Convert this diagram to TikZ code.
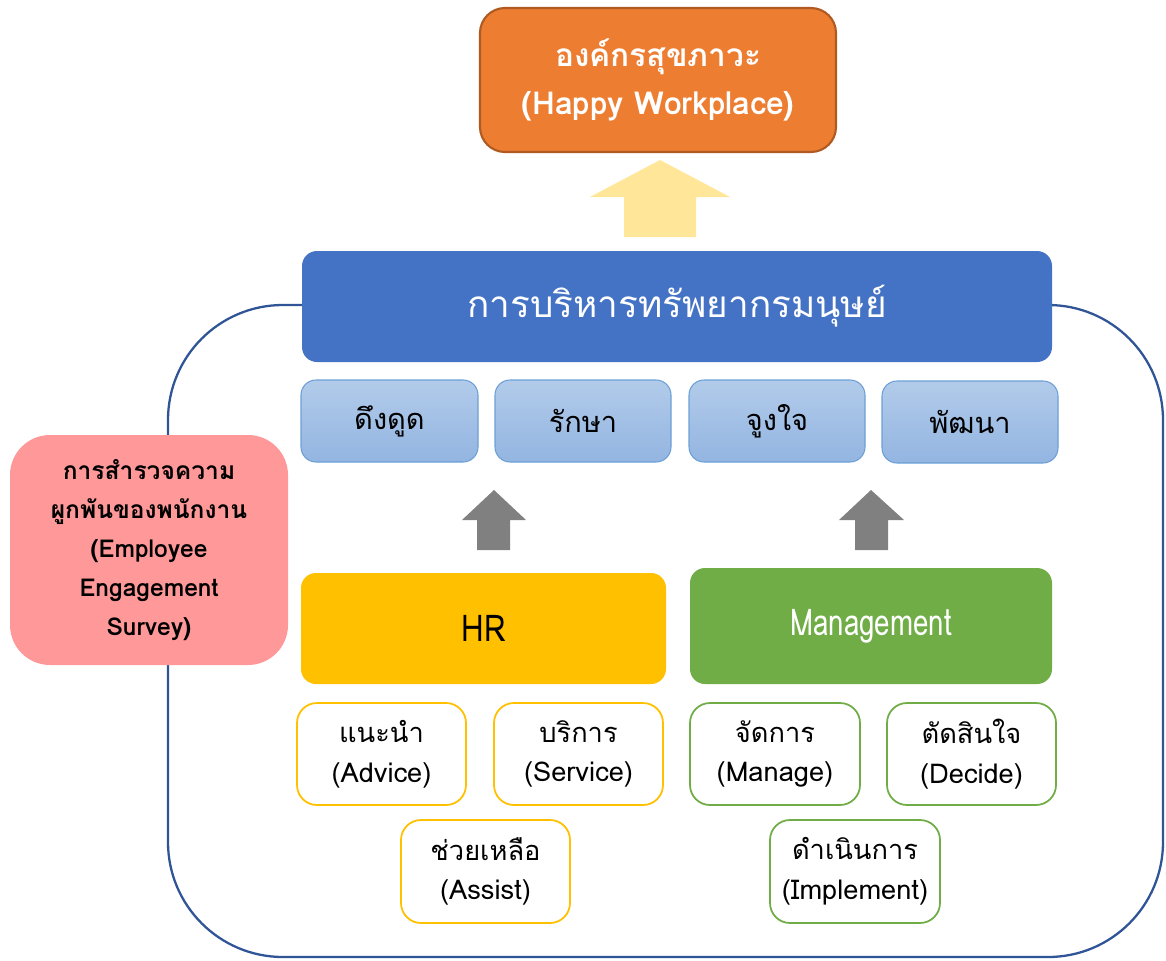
\documentclass[tikz,border=0pt]{standalone}
\usepackage{fontspec}
\setmainfont[Script=Thai]{Loma}
\newfontfamily\narrowA[Script=Thai,FakeStretch=0.75]{Loma}
\newfontfamily\narrowB[Script=Thai,FakeStretch=0.85]{Loma}
\usetikzlibrary{fit}

\definecolor{frameblue}{HTML}{2F5597}
\definecolor{orangefill}{HTML}{ED7D31}
\definecolor{orangeline}{HTML}{AE5A21}
\definecolor{paleyellow}{HTML}{FFE699}
\definecolor{hrmblue}{HTML}{4472C4}
\definecolor{lbtop}{HTML}{B2CBEA}
\definecolor{lbbot}{HTML}{93B5E1}
\definecolor{lbline}{HTML}{6C9FD6}
\definecolor{arrowgray}{HTML}{808080}
\definecolor{hryellow}{HTML}{FFC000}
\definecolor{mgreen}{HTML}{70AD47}
\definecolor{pinkfill}{HTML}{FF9999}

\tikzset{
  boxfit/.style={inner sep=0pt},
  goalbox/.style={boxfit, fill=orangefill, draw=orangeline, line width=1.2pt,
    rounded corners=0.5cm},
  hrmbar/.style={boxfit, fill=hrmblue, rounded corners=0.3cm},
  funcbox/.style={boxfit, top color=lbtop, bottom color=lbbot, draw=lbline,
    line width=0.6pt, rounded corners=0.3cm},
  hrbox/.style={boxfit, fill=hryellow, rounded corners=0.3cm},
  mgbox/.style={boxfit, fill=mgreen, rounded corners=0.3cm},
  rolehr/.style={boxfit, fill=white, draw=hryellow, line width=1pt,
    rounded corners=0.4cm},
  rolemg/.style={rolehr, draw=mgreen},
  surveybox/.style={boxfit, fill=pinkfill, rounded corners=0.8cm},
  % text styles
  label/.style={inner sep=0pt, align=center},
  goaltext/.style={label, text=white,
    font=\fontsize{18}{27}\selectfont\bfseries},
  hrmtext/.style={label, text=white,
    font=\fontsize{21}{25}\selectfont},
  functext/.style={label,
    font=\fontsize{16.5}{20}\selectfont},
  hrtext/.style={label,
    font=\fontsize{21}{25}\narrowB\selectfont},
  mgtext/.style={label, text=white,
    font=\fontsize{21}{25}\narrowA\selectfont},
  roletext/.style={label,
    font=\fontsize{15.5}{22.5}\selectfont},
  surveytext/.style={label,
    font=\fontsize{14}{22.3}\selectfont\bfseries},
}

\begin{document}
\begin{tikzpicture}[x=0.02cm, y=-0.02cm]
\useasboundingbox (0,0) rectangle (1166,960);

% outer frame around the HR management system
\draw[frameblue, line width=1.3pt, rounded corners=2.3cm]
  (168,305) rectangle (1163,957);

% goal at the top
\node[goalbox, fit={(480,8) (836,152)}] (goal) {};
\node[goaltext] (goal-t) at (goal) {องค์กรสุขภาวะ\\(Happy Workplace)};

% pale arrow pointing up to the goal
\fill[paleyellow] (660,160) -- (730,197) -- (696,197) -- (696,237)
  -- (624,237) -- (624,197) -- (590,197) -- cycle;

% human resource management bar
\node[hrmbar, fit={(302,251) (1052,362)}] (hrm) {};
\node[hrmtext] (hrm-t) at (hrm) {การบริหารทรัพยากรมนุษย์};

% four functions
\node[funcbox, fit={(301,380) (478,462)}] (f1) {};
\node[funcbox, fit={(495,380) (671,462)}] (f2) {};
\node[funcbox, fit={(689,380) (865,462)}] (f3) {};
\node[funcbox, fit={(882,381) (1058,463)}] (f4) {};
\node[functext] (f1-t) at (f1) {ดึงดูด};
\node[functext] (f2-t) at (f2) {รักษา};
\node[functext] (f3-t) at (f3) {จูงใจ};
\node[functext] (f4-t) at (f4) {พัฒนา};

% grey arrows
\fill[arrowgray] (494,490) -- (526,520) -- (510,520) -- (510,550)
  -- (477,550) -- (477,520) -- (462,520) -- cycle;
\fill[arrowgray] (871,490) -- (904,520) -- (888,520) -- (888,550)
  -- (855,550) -- (855,520) -- (839,520) -- cycle;

% survey box on the left
\node[surveybox, fit={(10,435) (288,665)}] (survey) {};
\node[surveytext] (survey-t) at (survey)
  {การสำรวจความ\\ผูกพันของพนักงาน\\(Employee\\Engagement\\Survey)};

% HR and Management
\node[hrbox, fit={(301,573) (666,684)}] (hr) {};
\node[mgbox, fit={(690,568) (1052,684)}] (mg) {};
\node[hrtext] (hr-t) at (hr) {HR};
\node[mgtext] (mg-t) at (mg) {Management};

% roles of HR
\node[rolehr, fit={(297,703) (466,805)}] (r1) {};
\node[rolehr, fit={(494,703) (663,805)}] (r2) {};
\node[rolehr, fit={(401,820) (570,923)}] (r3) {};
\node[roletext] (r1-t) at (r1) {แนะนำ\\(Advice)};
\node[roletext] (r2-t) at (r2) {บริการ\\(Service)};
\node[roletext] (r3-t) at (r3) {ช่วยเหลือ\\(Assist)};

% roles of management
\node[rolemg, fit={(690,703) (860,805)}] (m1) {};
\node[rolemg, fit={(887,703) (1056,805)}] (m2) {};
\node[rolemg, fit={(770,820) (940,923)}] (m3) {};
\node[roletext] (m1-t) at (m1) {จัดการ\\(Manage)};
\node[roletext] (m2-t) at (m2) {ตัดสินใจ\\(Decide)};
\node[roletext] (m3-t) at (m3) {ดำเนินการ\\(Implement)};
\end{tikzpicture}
\end{document}
